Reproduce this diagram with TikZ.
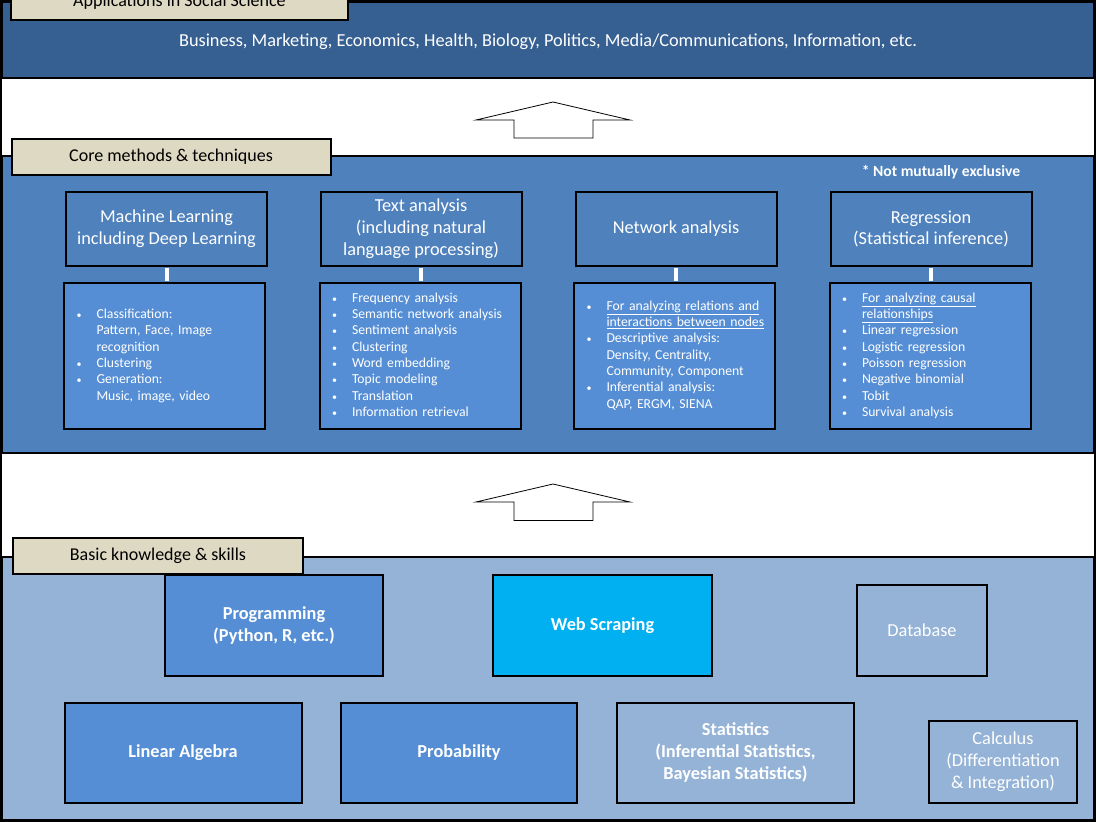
\documentclass[tikz,border=0pt]{standalone}
\usepackage{fontspec}
\setmainfont{Carlito}
\newcommand{\bul}{\makebox[25pt][l]{\hspace{5pt}{\fontsize{10}{10}\selectfont\textbullet}}}
\begin{document}
\begin{tikzpicture}[x=1pt,y=1pt,yscale=-1,xscale=1,
        band/.style={draw, line width=2pt, inner sep=0pt, minimum width=1092pt},
        tag/.style={draw, line width=2pt, fill={rgb, 255:red, 221; green, 217; blue, 195 }, inner sep=0pt, minimum height=36pt, font=\fontsize{18}{21}\selectfont},
        head/.style={draw, line width=2pt, fill={rgb, 255:red, 79; green, 129; blue, 189 }, text=white, inner sep=0pt, minimum width=201pt, minimum height=74pt, align=center, font=\fontsize{18.3}{21.8}\selectfont},
        list/.style={draw, line width=2pt, fill={rgb, 255:red, 85; green, 142; blue, 213 }, text=white, inner xsep=7pt, inner ysep=0pt, text width=186pt, minimum width=201pt, minimum height=146.5pt, align=left, font=\fontsize{13.7}{16.3}\selectfont},
        skill/.style={draw, line width=2pt, text=white, inner sep=0pt, align=center, font=\fontsize{18.3}{21.8}\selectfont},
        strong/.style={skill, font=\fontsize{18.3}{21.8}\selectfont\bfseries},
        link/.style={draw=white, line width=4pt, shorten <=1pt, shorten >=1pt},
        uparrow/.style={draw, line width=0.8pt, fill=white}
    ]
        \useasboundingbox (0,0) rectangle (1096,822);

        %Shape: Rectangle (applications)
        \node [band, fill={rgb, 255:red, 55; green, 96; blue, 146 }, minimum height=76pt] (apps) at (548,40) {};
        %Shape: Rectangle (core methods)
        \node [band, fill={rgb, 255:red, 79; green, 129; blue, 189 }, minimum height=297pt] (core) at (548,304.5) {};
        %Shape: Rectangle (basic knowledge)
        \node [band, fill={rgb, 255:red, 149; green, 179; blue, 215 }, minimum height=263pt] (basic) at (548,688.5) {};
        %Shape: Rectangle (outer frame)
        \draw [line width=2pt] (1,1) rectangle (1095,821) ;

        %Text nodes
        \node [tag, minimum width=337pt] (appstag) at (179.5,2) {Applications in Social Science};
        \node [text=white, font=\fontsize{18.3}{21}\selectfont] (fields) at (548,42) {Business, Marketing, Economics, Health, Biology, Politics, Media/Communications, Information, etc.};
        \node [tag, minimum width=319pt] (coretag) at (171,157) {Core methods \& techniques};
        \node [text=white, font=\fontsize{15.6}{18}\selectfont\bfseries] (note) at (941,172) {* Not mutually exclusive};
        \node [tag, minimum width=290pt] (basictag) at (158,556) {Basic knowledge \& skills};

        %Shape: Up Arrow
        \draw [uparrow] (476,120) -- (553,102) -- (630,120) -- (593,120) -- (593,138) -- (514,138) -- (514,120) -- cycle ;
        %Shape: Up Arrow
        \draw [uparrow] (476,502) -- (553,484) -- (630,502) -- (593,502) -- (593,520.5) -- (514,520.5) -- (514,502) -- cycle ;

        %Shape: Rectangle (method headings)
        \node [head] (mlhead) at (166.5,229) {Machine Learning\\including Deep Learning};
        \node [head] (texthead) at (421,229) {Text analysis\\(including natural\\language processing)};
        \node [head] (nethead) at (676,229) {Network analysis};
        \node [head] (reghead) at (931,229) {Regression\\(Statistical inference)};

        %Shape: Rectangle (method lists)
        \node [list] (mllist) at (164.5,356) {\begin{tabular}{@{}l@{}l@{}}
            \bul & Classification:\\ & Pattern, Face, Image\\ & recognition\\
            \bul & Clustering\\
            \bul & Generation:\\ & Music, image, video
            \end{tabular}};
        \node [list] (textlist) at (420,356) {\begin{tabular}{@{}l@{}l@{}}
            \bul & Frequency analysis\\
            \bul & Semantic network analysis\\
            \bul & Sentiment analysis\\
            \bul & Clustering\\
            \bul & Word embedding\\
            \bul & Topic modeling\\
            \bul & Translation\\
            \bul & Information retrieval
            \end{tabular}};
        \node [list] (netlist) at (674.5,356) {\begin{tabular}{@{}l@{}l@{}}
            \bul & \underline{For analyzing relations and}\\ & \underline{interactions between nodes}\\
            \bul & Descriptive analysis:\\ & Density, Centrality,\\ & Community, Component\\
            \bul & Inferential analysis:\\ & QAP, ERGM, SIENA
            \end{tabular}};
        \node [list] (reglist) at (930,356) {\begin{tabular}{@{}l@{}l@{}}
            \bul & \underline{For analyzing causal}\\ & \underline{relationships}\\
            \bul & Linear regression\\
            \bul & Logistic regression\\
            \bul & Poisson regression\\
            \bul & Negative binomial\\
            \bul & Tobit\\
            \bul & Survival analysis
            \end{tabular}};

        %Straight Lines
        \draw [link] (mlhead.south) -- (mlhead.south |- mllist.north) ;
        %Straight Lines
        \draw [link] (texthead.south) -- (texthead.south |- textlist.north) ;
        %Straight Lines
        \draw [link] (nethead.south) -- (nethead.south |- netlist.north) ;
        %Straight Lines
        \draw [link] (reghead.south) -- (reghead.south |- reglist.north) ;

        %Shape: Rectangle (skills)
        \node [strong, fill={rgb, 255:red, 85; green, 142; blue, 213 }, minimum width=218.5pt, minimum height=101pt] (prog) at (274,625.5) {Programming\\(Python, R, etc.)};
        \node [strong, fill={rgb, 255:red, 0; green, 176; blue, 240 }, minimum width=219pt, minimum height=101pt] (web) at (602.5,625.5) {Web Scraping};
        \node [skill, fill={rgb, 255:red, 149; green, 179; blue, 215 }, minimum width=130pt, minimum height=91pt] (db) at (922,630.5) {Database};
        \node [strong, fill={rgb, 255:red, 85; green, 142; blue, 213 }, minimum width=237pt, minimum height=99.5pt] (linalg) at (183,752.75) {Linear Algebra};
        \node [strong, fill={rgb, 255:red, 85; green, 142; blue, 213 }, minimum width=236.5pt, minimum height=99.5pt] (prob) at (459,752.75) {Probability};
        \node [strong, fill={rgb, 255:red, 149; green, 179; blue, 215 }, minimum width=237pt, minimum height=99.5pt] (stats) at (735.5,752.75) {Statistics\\(Inferential Statistics,\\Bayesian Statistics)};
        \node [skill, fill={rgb, 255:red, 149; green, 179; blue, 215 }, minimum width=148.5pt, minimum height=81.5pt] (calc) at (1003,761.75) {Calculus\\(Differentiation\\\& Integration)};

    \end{tikzpicture}
\end{document}
